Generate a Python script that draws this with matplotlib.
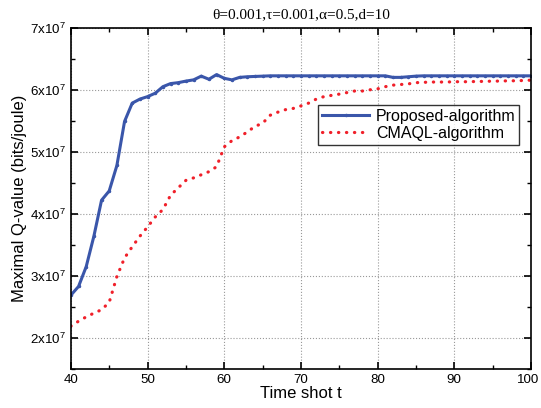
import matplotlib
matplotlib.use("Agg")
import numpy as np
from matplotlib import pyplot as plt
from matplotlib import transforms
from matplotlib.ticker import FixedLocator, MultipleLocator

plt.rcParams['font.family'] = ['Liberation Sans', 'DejaVu Sans']
plt.rcParams['mathtext.fontset'] = 'custom'
plt.rcParams['mathtext.rm'] = 'Liberation Sans'

# time shots
t = np.arange(40, 101)

# maximal Q-value, in units of 1e7 bits/joule
proposed = [2.69, 2.83, 3.15, 3.64, 4.22, 4.37, 4.78, 5.49, 5.785, 5.85,
            5.89, 5.945, 6.05, 6.10, 6.115, 6.14, 6.16, 6.22, 6.17, 6.245,
            6.185, 6.16, 6.20, 6.21, 6.215, 6.22, 6.225, 6.225, 6.225, 6.225,
            6.225, 6.225, 6.225, 6.225, 6.225, 6.225, 6.225, 6.225, 6.225, 6.225,
            6.225, 6.225, 6.20, 6.20, 6.21, 6.22, 6.225, 6.225, 6.225, 6.225,
            6.225, 6.225, 6.225, 6.225, 6.225, 6.225, 6.225, 6.225, 6.225, 6.225,
            6.225]
cmaql = [2.19, 2.27, 2.34, 2.40, 2.455, 2.575, 2.99, 3.29, 3.47, 3.64,
         3.79, 3.95, 4.07, 4.30, 4.42, 4.54, 4.58, 4.63, 4.68, 4.76,
         5.08, 5.18, 5.24, 5.32, 5.41, 5.46, 5.59, 5.64, 5.68, 5.70,
         5.74, 5.785, 5.85, 5.89, 5.91, 5.93, 5.955, 5.98, 5.98, 6.00,
         6.015, 6.05, 6.075, 6.085, 6.095, 6.115, 6.12, 6.125, 6.125, 6.125,
         6.13, 6.13, 6.13, 6.135, 6.135, 6.14, 6.14, 6.145, 6.145, 6.15,
         6.155]

yticks = [2, 3, 4, 5, 6, 7]
xticks = [40, 50, 60, 70, 80, 90, 100]

fig = plt.figure(figsize=(5.41, 4.08), dpi=100)
ax = fig.add_axes([0.131, 0.0956, 0.8505, 0.8364])

ax.plot(t, np.array(proposed) * 1e7, color='#3a56aa', lw=2.2,
        marker='.', markersize=3, label='Proposed-algorithm')
ax.plot(t, np.array(cmaql) * 1e7, color='#f0202a', lw=2.3,
        linestyle=(0, (0.1, 2.4)), dash_capstyle='round',
        label='CMAQL-algorithm')

ax.set_xlim(40, 100)
ax.set_ylim(1.5e7, 7e7)
ax.xaxis.set_major_locator(FixedLocator(xticks))
ax.xaxis.set_minor_locator(MultipleLocator(5))
ax.yaxis.set_major_locator(FixedLocator([v * 1e7 for v in yticks]))
ax.yaxis.set_minor_locator(MultipleLocator(0.5e7))
ax.set_yticklabels([r'$\mathregular{%dx10^{7}}$' % v for v in yticks])
ax.tick_params(which='both', direction='in', top=True, right=True,
               labelsize=9.6, colors='black')
ax.tick_params(which='major', length=5, width=1.2)
ax.tick_params(which='minor', length=3, width=1)
for s in ax.spines.values():
    s.set_linewidth(1.2)

# nudge the "100" label a little left so it stays inside the figure
last = ax.get_xticklabels()[-1]
last.set_transform(last.get_transform() +
                   transforms.ScaledTranslation(-3 / 100, 0, fig.dpi_scale_trans))

ax.grid(True, which='major', linestyle=':', color='#999999', lw=0.8)

ax.set_xlabel('Time shot t', fontsize=12, labelpad=0)
ax.set_ylabel('Maximal Q-value (bits/joule)', fontsize=12, labelpad=2)
ax.set_title('θ=0.001,τ=0.001,α=0.5,d=10', fontsize=11,
             family=['Liberation Serif', 'DejaVu Serif'], pad=7)

leg = ax.legend(loc='upper right', bbox_to_anchor=(0.975, 0.775),
                fontsize=11.5, frameon=True, fancybox=False,
                edgecolor='black', handlelength=3.0, borderpad=0.25,
                labelspacing=0.15, handletextpad=0.4, borderaxespad=0)
leg.get_frame().set_linewidth(1.0)

fig.savefig('out.png', dpi=100)
